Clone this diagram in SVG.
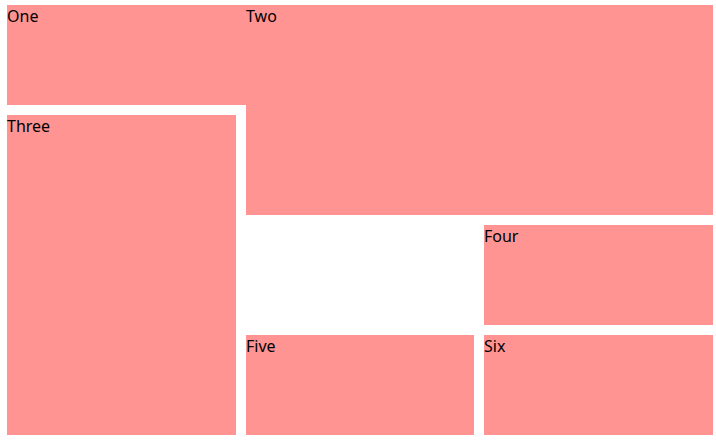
<svg xmlns="http://www.w3.org/2000/svg" width="716" height="440" viewBox="0 0 716 440">
<style>
.box{fill:#ff9492}
.lbl{font-family:"Noto Sans","Open Sans",sans-serif;font-size:16px;fill:#000}
</style>
<rect width="716" height="440" fill="#fff"/>
<g id="one"><rect class="box" x="7" y="5" width="239" height="100"/><text class="lbl" x="7" y="22">One</text></g>
<g id="two"><rect class="box" x="246" y="5" width="467" height="210"/><text class="lbl" x="246" y="22">Two</text></g>
<g id="three"><rect class="box" x="7" y="115" width="229" height="320"/><text class="lbl" x="7" y="132">Three</text></g>
<g id="four"><rect class="box" x="484" y="225" width="229" height="100"/><text class="lbl" x="484" y="242">Four</text></g>
<g id="five"><rect class="box" x="246" y="335" width="228" height="100"/><text class="lbl" x="246" y="352">Five</text></g>
<g id="six"><rect class="box" x="484" y="335" width="229" height="100"/><text class="lbl" x="484" y="352">Six</text></g>
<g id="connectors"/>
</svg>
